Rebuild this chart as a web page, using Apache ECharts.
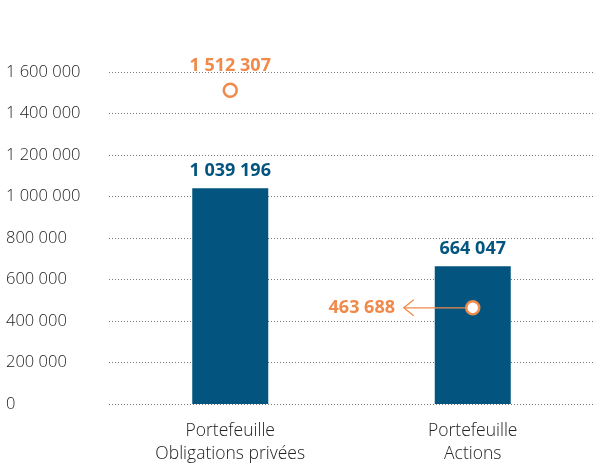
<!DOCTYPE html>
<html lang="fr">
<head>
<meta charset="UTF-8">
<title></title>
<style>html,body{margin:0;padding:0;background:#fff;}</style>
</head>
<body>
<div id="container" style="width:594px;height:466px;"></div>
<script src="https://cdn.jsdelivr.net/npm/echarts@6/dist/echarts.min.js"></script>
<script type="text/javascript">
// données
var categories = ['Portefeuille\nObligations privées', 'Portefeuille\nActions'];
var barValues = [1039196, 664047];
var pointValues = [1512307, 463688];
var yTicks = [0, 200000, 400000, 600000, 800000, 1000000, 1200000, 1400000, 1600000];

var blue = '#03557f';
var orange = '#f08a4b';

function fmt(v) {
  return String(v).replace(/\B(?=(\d{3})+(?!\d))/g, ' ');
}

var chart = echarts.init(document.getElementById('container'));
var option = {
  animation: false,
  grid: { left: 109, right: -2, top: 72, bottom: 60 },
  xAxis: {
    type: 'category',
    data: categories,
    axisLine: { show: false },
    axisTick: { show: false },
    axisLabel: {
      margin: 16,
      color: '#222',
      fontFamily: 'Open Sans',
      fontWeight: 300,
      fontSize: 17.5,
      lineHeight: 23
    }
  },
  yAxis: {
    type: 'value',
    min: yTicks[0],
    max: yTicks[yTicks.length - 1],
    interval: 200000,
    axisLine: { show: false },
    axisTick: { show: false },
    splitLine: { lineStyle: { color: '#777', type: [1, 2], width: 1 } },
    axisLabel: {
      align: 'left',
      margin: 103,
      padding: [0, 0, 12, 0],
      color: '#222',
      fontFamily: 'Open Sans',
      fontWeight: 300,
      fontSize: 16.5,
      formatter: function (v) { return fmt(v); }
    }
  },
  series: [
    {
      type: 'bar',
      data: barValues,
      barWidth: 76,
      itemStyle: { color: blue },
      label: {
        show: true,
        position: 'top',
        distance: 8,
        color: blue,
        fontFamily: 'Open Sans',
        fontWeight: 'bold',
        fontSize: 18,
        formatter: function (p) { return fmt(p.value); }
      }
    },
    {
      type: 'custom',
      data: [[1, pointValues[1]]],
      z: 3,
      renderItem: function (params, api) {
        var p = api.coord([api.value(0), api.value(1)]);
        var tip = p[0] - 69;
        var stroke = { stroke: orange, lineWidth: 1.3, fill: null };
        return {
          type: 'group',
          children: [
            { type: 'line', shape: { x1: p[0], y1: p[1], x2: tip, y2: p[1] }, style: stroke },
            { type: 'polyline', shape: { points: [[tip + 10, p[1] - 8], [tip, p[1]], [tip + 10, p[1] + 8]] }, style: stroke }
          ]
        };
      }
    },
    {
      type: 'scatter',
      z: 4,
      symbol: 'circle',
      symbolSize: 13,
      itemStyle: { color: '#fff', borderColor: orange, borderWidth: 2.5, opacity: 1 },
      data: [
        {
          value: pointValues[0],
          label: { position: 'top', distance: 8 }
        },
        {
          value: pointValues[1],
          label: { position: 'left', distance: 70 }
        }
      ],
      label: {
        show: true,
        color: orange,
        fontFamily: 'Open Sans',
        fontWeight: 'bold',
        fontSize: 18,
        formatter: function (p) { return fmt(p.value); }
      }
    }
  ]
};
chart.setOption(option);
</script>
</body>
</html>
